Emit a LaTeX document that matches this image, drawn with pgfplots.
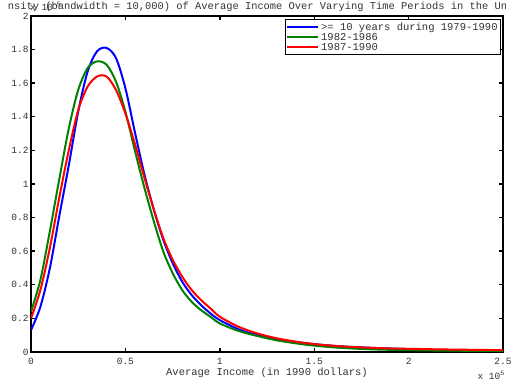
\documentclass[border=0pt]{standalone}
\usepackage{fontspec}
\setmainfont{Liberation Mono}
\usepackage{pgfplots}
\pgfplotsset{compat=1.18}
\definecolor{mblue}{rgb}{0,0,1}
\definecolor{mgreen}{rgb}{0,0.5,0}
\definecolor{mred}{rgb}{1,0,0}
\begin{document}
\begin{tikzpicture}
\begin{axis}[
  name=ax,
  scale only axis,
  width=472pt, height=336pt,
  xmin=0, xmax=2.5, ymin=0, ymax=2,
  axis line style={line width=1.6pt},
  tick style={line width=1.4pt, black},
  tick align=inside,
  major tick length=4pt,
  xtick={0,0.5,1,1.5,2,2.5},
  xticklabels={0,0.5,1,1.5,2,2.5},
  ytick={0,0.2,0.4,0.6,0.8,1,1.2,1.4,1.6,1.8,2},
  yticklabels={0,0.2,0.4,0.6,0.8,1,1.2,1.4,1.6,1.8,2},
  ticklabel style={font=\fontsize{9.5}{10}\selectfont, text=black!80},
  xticklabel style={yshift=-3pt},
  yticklabel style={xshift=1pt},
  scaled ticks=false,
  xlabel={Average Income (in 1990 dollars)},
  xlabel style={font=\fontsize{10.5}{11}\selectfont, text=black!80, yshift=4pt},
  legend style={at={(1,1)}, anchor=north east, xshift=-2pt, yshift=-3pt,
    font=\fontsize{10.5}{10.5}\selectfont, draw=black, line width=0.8pt,
    inner sep=1pt, row sep=-2.5pt, cells={anchor=west, text=black!80}},
  legend image code/.code={\draw[#1, line width=2pt] (0pt,0pt) -- (31pt,0pt);},
  legend cell align=left,
]
\addplot[mblue, line width=2pt, smooth, tension=0.5] coordinates {
(0,0.13) (0.05,0.27) (0.1,0.50) (0.15,0.81) (0.2,1.11) (0.25,1.43) (0.3,1.67) (0.35,1.79) (0.4,1.81) (0.45,1.75) (0.5,1.57) (0.55,1.31) (0.6,1.06) (0.65,0.85) (0.7,0.67) (0.75,0.53) (0.8,0.42) (0.85,0.34) (0.9,0.28) (0.95,0.23) (1.0,0.19) (1.1,0.135) (1.2,0.10) (1.3,0.077) (1.4,0.060) (1.5,0.047) (1.6,0.037) (1.7,0.030) (1.8,0.025) (1.9,0.021) (2.0,0.017) (2.1,0.014) (2.2,0.012) (2.3,0.010) (2.4,0.009) (2.5,0.008)};
\addlegendentry{>= 10 years during 1979-1990}
\addplot[mgreen, line width=2pt, smooth, tension=0.5] coordinates {
(0,0.24) (0.05,0.43) (0.1,0.72) (0.15,1.03) (0.2,1.33) (0.25,1.56) (0.3,1.69) (0.35,1.73) (0.4,1.71) (0.45,1.61) (0.5,1.43) (0.55,1.20) (0.6,0.98) (0.65,0.78) (0.7,0.60) (0.75,0.47) (0.8,0.37) (0.85,0.30) (0.9,0.25) (0.95,0.21) (1.0,0.17) (1.1,0.125) (1.2,0.095) (1.3,0.070) (1.4,0.052) (1.5,0.038) (1.6,0.028) (1.7,0.021) (1.8,0.016) (1.9,0.013) (2.0,0.011) (2.2,0.008) (2.5,0.006)};
\addlegendentry{1982-1986}
\addplot[mred, line width=2pt, smooth, tension=0.5] coordinates {
(0,0.20) (0.05,0.37) (0.1,0.62) (0.15,0.92) (0.2,1.20) (0.25,1.44) (0.3,1.58) (0.35,1.64) (0.4,1.64) (0.45,1.56) (0.5,1.42) (0.55,1.24) (0.6,1.04) (0.65,0.85) (0.7,0.68) (0.75,0.55) (0.8,0.45) (0.85,0.37) (0.9,0.31) (0.95,0.26) (1.0,0.21) (1.1,0.15) (1.2,0.11) (1.3,0.082) (1.4,0.062) (1.5,0.047) (1.6,0.037) (1.7,0.030) (1.8,0.025) (1.9,0.021) (2.0,0.019) (2.2,0.015) (2.5,0.011)};
\addlegendentry{1987-1990}
\end{axis}
\begin{scope}
\clip ([xshift=-23.5pt]ax.north west) rectangle ([xshift=2pt,yshift=16pt]ax.north east);
\node[anchor=south, font=\fontsize{10.4}{11}\selectfont, text=black!80, inner sep=0pt, xshift=-3.2pt, yshift=4pt] at (ax.north) {Kernel Density (bandwidth = 10,000) of Average Income Over Varying Time Periods in the United States};
\end{scope}
\node[anchor=south west, font=\fontsize{9.5}{10}\selectfont, text=black!80, inner sep=0pt, xshift=-1pt, yshift=5pt] at (ax.north west) {x 10\textsuperscript{-5}};
\node[anchor=north east, font=\fontsize{9.5}{10}\selectfont, text=black!80, inner sep=0pt, xshift=2pt, yshift=-19pt] at (ax.south east) {x 10\textsuperscript{5}};
\pgfresetboundingbox
\path[use as bounding box] ([xshift=-31pt,yshift=-35pt]ax.south west) rectangle ([xshift=10pt,yshift=16pt]ax.north east);
\end{tikzpicture}
\end{document}
